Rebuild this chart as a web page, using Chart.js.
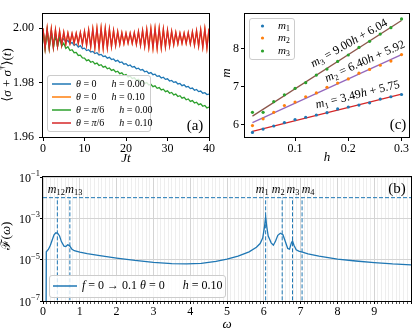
<!DOCTYPE html>
<html>
<head>
<meta charset="utf-8">
<script src="https://cdn.jsdelivr.net/npm/chart.js@4.4.1/dist/chart.umd.min.js"></script>
<style>
  html, body { margin: 0; padding: 0; background: #fff; }
  #wrap { position: relative; width: 415px; height: 332px; overflow: hidden; }
  #wrap canvas { position: absolute; left: 0; top: 0; }
</style>
</head>
<body>
<div id="wrap">
  <canvas id="panelA" width="415" height="332"></canvas>
  <canvas id="panelC" width="415" height="332"></canvas>
  <canvas id="panelB" width="415" height="332"></canvas>
</div>
<script>
const SERIF = "'Liberation Serif', 'DejaVu Serif', serif";
const C0 = '#1f77b4', C1 = '#ff7f0e', C2 = '#2ca02c', C3 = '#d62728', C4 = '#9467bd', C5 = '#8c564b';

// ---- panel (a): <sigma + sigma^dagger>(t), sampled every half unit of Jt ----
const aTime = Array.from({ length: 81 }, (_, i) => i / 2);
const aBlue = [
  1.9995, 1.9930, 1.9990, 1.9935, 1.9985, 1.9940, 1.9978, 1.9945, 1.9970, 1.9950,
  1.9962, 1.9950, 1.9955, 1.9943, 1.9948, 1.9937, 1.9942, 1.9931, 1.9936, 1.9925,
  1.9927, 1.9918, 1.9921, 1.9913, 1.9915, 1.9907, 1.9910, 1.9902, 1.9904, 1.9896,
  1.9898, 1.9890, 1.9893, 1.9885, 1.9887, 1.9879, 1.9882, 1.9874, 1.9876, 1.9868,
  1.9870, 1.9862, 1.9865, 1.9857, 1.9859, 1.9851, 1.9853, 1.9846, 1.9848, 1.9840,
  1.9842, 1.9834, 1.9837, 1.9829, 1.9831, 1.9823, 1.9825, 1.9817, 1.9820, 1.9812,
  1.9814, 1.9806, 1.9808, 1.9801, 1.9803, 1.9795, 1.9797, 1.9789, 1.9792, 1.9784,
  1.9786, 1.9778, 1.9780, 1.9772, 1.9775, 1.9767, 1.9769, 1.9761, 1.9763, 1.9756,
  1.9758
];
const aOrange = [
  1.9999, 1.9928, 1.9999, 1.9929, 1.9997, 1.9931, 1.9994, 1.9934, 1.9989, 1.9938,
  1.9985, 1.9942, 1.9982, 1.9945, 1.9980, 1.9946, 1.9981, 1.9945, 1.9984, 1.9942,
  1.9988, 1.9938, 1.9993, 1.9933, 1.9997, 1.9929, 1.9999, 1.9927, 2.0000, 1.9927,
  1.9999, 1.9929, 1.9996, 1.9933, 1.9991, 1.9937, 1.9987, 1.9941, 1.9983, 1.9944,
  1.9981, 1.9946, 1.9981, 1.9945, 1.9983, 1.9942, 1.9987, 1.9938, 1.9991, 1.9934,
  1.9995, 1.9930, 1.9998, 1.9928, 1.9999, 1.9927, 1.9999, 1.9929, 1.9996, 1.9932,
  1.9992, 1.9936, 1.9988, 1.9940, 1.9984, 1.9943, 1.9981, 1.9945, 1.9981, 1.9945,
  1.9983, 1.9943, 1.9986, 1.9939, 1.9990, 1.9935, 1.9994, 1.9931, 1.9997, 1.9928,
  1.9998
];
const aGreen = [
  1.9995, 1.9925, 1.9992, 1.9925, 1.9985, 1.9928, 1.9975, 1.9932, 1.9965, 1.9934,
  1.9945, 1.9926, 1.9932, 1.9918, 1.9921, 1.9910, 1.9911, 1.9900, 1.9901, 1.9891,
  1.9890, 1.9881, 1.9884, 1.9875, 1.9878, 1.9869, 1.9872, 1.9863, 1.9866, 1.9857,
  1.9860, 1.9851, 1.9854, 1.9845, 1.9848, 1.9839, 1.9842, 1.9833, 1.9836, 1.9827,
  1.9830, 1.9821, 1.9824, 1.9815, 1.9818, 1.9809, 1.9812, 1.9803, 1.9806, 1.9797,
  1.9800, 1.9791, 1.9794, 1.9785, 1.9788, 1.9779, 1.9782, 1.9773, 1.9776, 1.9767,
  1.9770, 1.9761, 1.9764, 1.9755, 1.9758, 1.9749, 1.9752, 1.9743, 1.9746, 1.9737,
  1.9740, 1.9731, 1.9734, 1.9725, 1.9728, 1.9719, 1.9722, 1.9713, 1.9716, 1.9707,
  1.9710
];
const aRed = [
  2.0000, 1.9926, 2.0000, 1.9927, 1.9998, 1.9929, 1.9995, 1.9933, 1.9990, 1.9937,
  1.9986, 1.9941, 1.9983, 1.9944, 1.9981, 1.9945, 1.9982, 1.9944, 1.9985, 1.9941,
  1.9989, 1.9937, 1.9994, 1.9932, 1.9998, 1.9928, 2.0000, 1.9926, 2.0001, 1.9926,
  2.0000, 1.9928, 1.9997, 1.9932, 1.9992, 1.9936, 1.9988, 1.9940, 1.9984, 1.9943,
  1.9982, 1.9945, 1.9982, 1.9944, 1.9984, 1.9941, 1.9988, 1.9937, 1.9992, 1.9933,
  1.9996, 1.9929, 1.9999, 1.9927, 2.0000, 1.9926, 2.0000, 1.9928, 1.9997, 1.9931,
  1.9993, 1.9935, 1.9989, 1.9939, 1.9985, 1.9942, 1.9982, 1.9944, 1.9982, 1.9944,
  1.9984, 1.9942, 1.9987, 1.9938, 1.9991, 1.9934, 1.9995, 1.9930, 1.9998, 1.9927,
  1.9999
];
const aTheta = [[['0', 'r']], [['0', 'r']], [['π', 'i'], ['/6', 'r']], [['π', 'i'], ['/6', 'r']]];
const aField = ['0.00', '0.10', '0.00', '0.10'];
const aXTicks = [0, 10, 20, 30, 40];
const aYTicks = [1.96, 1.98, 2.00];

// ---- panel (c): peak positions m vs h with linear fits ----
const cH = [0.02, 0.04, 0.06, 0.08, 0.10, 0.12, 0.14, 0.16, 0.18, 0.20, 0.22, 0.24, 0.26, 0.28, 0.30];
const cM1 = [5.79, 5.88, 5.96, 6.05, 6.13, 6.19, 6.25, 6.31, 6.41, 6.46, 6.51, 6.57, 6.67, 6.73, 6.79];
const cM2 = [5.97, 6.15, 6.32, 6.50, 6.59, 6.73, 6.83, 6.98, 7.09, 7.20, 7.35, 7.45, 7.56, 7.67, 7.84];
const cM3 = [6.32, 6.32, 6.60, 6.78, 6.95, 7.10, 7.30, 7.46, 7.66, 7.83, 8.03, 8.19, 8.38, 8.55, 8.78];
const cSlope = [3.49, 6.40, 9.00];
const cIntercept = [5.75, 5.92, 6.04];
const cXTicks = [0.1, 0.2, 0.3];
const cYTicks = [6, 7, 8];

// ---- panel (b): spectrum F(omega) ----
const bOmega = [0.08, 0.09, 0.15, 0.20, 0.25, 0.30, 0.35, 0.40, 0.45, 0.50,
  0.57, 0.62, 0.67, 0.72, 0.78, 0.85, 1.0, 1.2, 1.5, 2.0,
  2.5, 3.0, 3.5, 3.9, 4.3, 4.7, 5.0, 5.3, 5.6, 5.8,
  5.9, 5.97, 6.02, 6.05, 6.08, 6.12, 6.2, 6.26, 6.32, 6.38,
  6.45, 6.52, 6.58, 6.65, 6.7, 6.75, 6.78, 6.82, 6.88, 6.95,
  7.05, 7.2, 7.5, 8.0, 8.5, 9.0, 9.5, 10.0];
const bF = [1e-9, 2.4e-5, 3.2e-5, 5.0e-5, 9.0e-5, 1.6e-4, 2.0e-4, 1.9e-4, 1.4e-4, 7.5e-5,
  4.5e-5, 4.3e-5, 5.2e-5, 4.8e-5, 3.3e-5, 2.7e-5, 2.3e-5, 1.95e-5, 1.6e-5, 1.2e-5,
  9.2e-6, 7.4e-6, 6.5e-6, 6.2e-6, 6.6e-6, 8.3e-6, 1.05e-5, 1.5e-5, 2.4e-5, 4.0e-5,
  6.0e-5, 1.1e-4, 4.0e-4, 1.2e-3, 4.0e-4, 1.4e-4, 6.5e-5, 5.0e-5, 8.0e-5, 1.5e-4,
  1.9e-4, 1.6e-4, 8.0e-5, 3.5e-5, 3.2e-5, 6.5e-5, 8.0e-5, 5.0e-5, 3.0e-5, 2.6e-5,
  2.3e-5, 1.9e-5, 1.5e-5, 1.07e-5, 8.6e-6, 7.2e-6, 6.2e-6, 5.6e-6];
const bPeakNames = ['12', '13', '1', '2', '3', '4'];
const bPeaks = [0.39, 0.73, 6.05, 6.50, 6.78, 7.04];
const bLevel = 1e-2;
const bXTicks = [0, 1, 2, 3, 4, 5, 6, 7, 8, 9];
const bYTicks = [1e-7, 1e-5, 1e-3, 1e-1];

// ---------- drawing helpers ----------
function fontOf(kind, size) {
  const small = kind === 'sub' || kind === 'sup';
  return (kind === 'i' ? 'italic ' : '') + (small ? size * 0.7 : size) + 'px ' + SERIF;
}

// runs: [text, kind] with kind r (roman), i (italic), sub, sup
function richText(ctx, runs, x, y, size, align, angle) {
  ctx.save();
  ctx.translate(x, y);
  if (angle) ctx.rotate(-angle * Math.PI / 180);
  ctx.textBaseline = 'middle';
  ctx.textAlign = 'left';
  ctx.fillStyle = '#000';
  let w = 0;
  for (const [t, k] of runs) { ctx.font = fontOf(k, size); w += ctx.measureText(t).width; }
  let cx = align === 'left' ? 0 : align === 'right' ? -w : -w / 2;
  for (const [t, k] of runs) {
    ctx.font = fontOf(k, size);
    const dy = k === 'sub' ? size * 0.3 : k === 'sup' ? -size * 0.38 : 0;
    ctx.fillText(t, cx, dy);
    cx += ctx.measureText(t).width;
  }
  ctx.restore();
}

function drawFrame(chart) {
  const { ctx, chartArea: a } = chart;
  ctx.save();
  ctx.strokeStyle = '#000';
  ctx.lineWidth = 1;
  ctx.strokeRect(Math.round(a.left) - 0.5, Math.round(a.top) - 0.5,
    Math.round(a.right - a.left) + 1, Math.round(a.bottom - a.top) + 1);
  ctx.restore();
}

function legendBox(ctx, x0, y0, x1, y1) {
  ctx.save();
  ctx.fillStyle = 'rgba(255,255,255,0.8)';
  ctx.strokeStyle = '#cccccc';
  ctx.lineWidth = 1;
  ctx.beginPath();
  if (ctx.roundRect) ctx.roundRect(x0 + 0.5, y0 + 0.5, x1 - x0, y1 - y0, 2.5);
  else ctx.rect(x0 + 0.5, y0 + 0.5, x1 - x0, y1 - y0);
  ctx.fill();
  ctx.stroke();
  ctx.restore();
}

function axisOpts(min, max, tickList, fmt, fitSize, horizontal, pad) {
  return {
    type: 'linear', min, max,
    border: { display: false },
    grid: { drawOnChartArea: false, drawTicks: true, tickLength: 4, tickColor: '#000', tickWidth: 1 },
    ticks: { color: '#000', font: { size: 12, family: SERIF }, padding: pad, maxRotation: 0, autoSkip: false, callback: fmt },
    afterBuildTicks: s => { s.ticks = tickList.map(v => ({ value: v })); },
    afterFit: s => { if (horizontal) s.height = fitSize; else s.width = fitSize; }
  };
}

const baseOpts = {
  responsive: false, animation: false, devicePixelRatio: 1,
  plugins: { legend: { display: false }, tooltip: { enabled: false } }
};

// ---------- (a) ----------
const aPts = ys => ys.map((y, i) => ({ x: aTime[i], y }));
const aColors = [C0, C1, C2, C3];
new Chart(document.getElementById('panelA'), {
  type: 'line',
  data: {
    datasets: [aBlue, aOrange, aGreen, aRed].map((ys, i) => ({
      data: aPts(ys), borderColor: aColors[i], borderWidth: 1.3, pointRadius: 0, order: 4 - i
    }))
  },
  options: {
    ...baseOpts,
    layout: { padding: { left: 0, top: 14, right: 206, bottom: 162 } },
    scales: {
      x: axisOpts(0, 40, aXTicks, v => String(v), 33, true, 1),
      y: axisOpts(1.96, 2.00525, aYTicks, v => v.toFixed(2), 43, false, 5)
    }
  },
  plugins: [{
    id: 'decorA',
    afterDraw(chart) {
      const ctx = chart.ctx;
      drawFrame(chart);
      legendBox(ctx, 47, 75, 150, 131);
      const rows = [84, 97, 110, 123];
      rows.forEach((ry, i) => {
        ctx.save();
        ctx.strokeStyle = aColors[i];
        ctx.lineWidth = 1.5;
        ctx.beginPath(); ctx.moveTo(52, ry); ctx.lineTo(71, ry); ctx.stroke();
        ctx.restore();
        richText(ctx, [['θ', 'i'], [' = ', 'r'], ...aTheta[i], ['\u2003\u2002', 'r'], ['h', 'i'], [' = ' + aField[i], 'r']],
          76, ry, 10, 'left');
      });
      richText(ctx, [['(a)', 'r']], 195, 126, 15, 'center');
      richText(ctx, [['Jt', 'i']], 126, 159, 13, 'center');
      richText(ctx, [['⟨', 'r'], ['σ', 'i'], [' + ', 'r'], ['σ', 'i'], ['†', 'sup'], ['⟩', 'r'], ['(', 'r'], ['t', 'i'], [')', 'r']],
        8, 75, 13, 'center', 90);
    }
  }]
});

// ---------- (c) ----------
const cPts = ys => ys.map((y, i) => ({ x: cH[i], y }));
const cFit = k => [cH[0], cH[cH.length - 1]].map(h => ({ x: h, y: cSlope[k] * h + cIntercept[k] }));
const cDotColors = [C0, C1, C2];
const cFitColors = [C3, C4, C5];
const cNoteH = [0.222, 0.238, 0.21];
const cNoteOff = [10, 9, 9];
const cNoteAngle = [14, 24, 29.5];
new Chart(document.getElementById('panelC'), {
  type: 'scatter',
  data: {
    datasets: [
      ...[cM1, cM2, cM3].map((ys, i) => ({
        data: cPts(ys), backgroundColor: cDotColors[i], borderColor: cDotColors[i],
        pointRadius: 1.6, pointBorderWidth: 0, showLine: false, order: 1
      })),
      ...[0, 1, 2].map(k => ({
        data: cFit(k), borderColor: cFitColors[k], borderWidth: 1.3, pointRadius: 0, showLine: true, order: 5
      }))
    ]
  },
  options: {
    ...baseOpts,
    layout: { padding: { left: 213, top: 14, right: 6, bottom: 162 } },
    scales: {
      x: axisOpts(0.006, 0.314, cXTicks, v => v.toFixed(1), 33, true, 1),
      y: axisOpts(5.67, 8.91, cYTicks, v => String(v), 32, false, 2)
    }
  },
  plugins: [{
    id: 'decorC',
    afterDraw(chart) {
      const ctx = chart.ctx;
      const xs = chart.scales.x, ys = chart.scales.y;
      drawFrame(chart);
      [0, 1, 2].forEach(k => {
        const h = cNoteH[k];
        const px = xs.getPixelForValue(h), py = ys.getPixelForValue(cSlope[k] * h + cIntercept[k]);
        const th = cNoteAngle[k] * Math.PI / 180;
        richText(ctx, [['m', 'i'], [String(k + 1), 'sub'], [' = ' + cSlope[k].toFixed(2), 'r'], ['h', 'i'],
          [' + ' + cIntercept[k].toFixed(2), 'r']],
          px - cNoteOff[k] * Math.sin(th), py - cNoteOff[k] * Math.cos(th), 12, 'center', cNoteAngle[k]);
      });
      legendBox(ctx, 249, 18, 294, 59);
      [26, 38, 51].forEach((ry, i) => {
        ctx.save();
        ctx.fillStyle = cDotColors[i];
        ctx.beginPath(); ctx.arc(262.5, ry, 1.6, 0, Math.PI * 2); ctx.fill();
        ctx.restore();
        richText(ctx, [['m', 'i'], [String(i + 1), 'sub']], 278, ry, 11, 'left');
      });
      richText(ctx, [['(c)', 'r']], 398, 125, 15, 'center');
      richText(ctx, [['h', 'i']], 327, 158, 13, 'center');
      richText(ctx, [['m', 'i']], 227, 73, 13, 'center', 90);
    }
  }]
});

// ---------- (b) ----------
const isMajor = v => Math.abs(v - Math.round(v)) < 1e-6;
const bLabelDx = [-1, 4, -3.5, -4, 0.5, 6];
new Chart(document.getElementById('panelB'), {
  type: 'line',
  data: {
    datasets: [
      { data: bOmega.map((w, i) => ({ x: w, y: bF[i] })), borderColor: C0, borderWidth: 1.3, pointRadius: 0, order: 1 },
      { data: [{ x: 0, y: bLevel }, { x: 10, y: bLevel }], borderColor: C0, borderWidth: 1, borderDash: [4, 2], pointRadius: 0, order: 2 },
      ...bPeaks.map(w => ({
        data: [{ x: w, y: 1e-9 }, { x: w, y: bLevel }], borderColor: C0, borderWidth: 1, borderDash: [4, 2], pointRadius: 0, order: 2
      }))
    ]
  },
  options: {
    ...baseOpts,
    layout: { padding: { left: 0, top: 177, right: 4, bottom: 0 } },
    scales: {
      x: {
        type: 'linear', min: 0, max: 10,
        border: { display: false },
        grid: {
          drawOnChartArea: true, drawTicks: true, tickLength: 3,
          color: c => isMajor(c.tick.value) ? '#d4d4d4' : '#eeeeee',
          tickColor: c => isMajor(c.tick.value) ? '#000' : '#555'
        },
        ticks: {
          color: '#000', font: { size: 12, family: SERIF }, padding: 1, maxRotation: 0, autoSkip: false,
          callback: v => (isMajor(v) && bXTicks.includes(Math.round(v))) ? String(Math.round(v)) : ''
        },
        afterBuildTicks: s => { s.ticks = Array.from({ length: 101 }, (_, i) => ({ value: i / 10 })); },
        afterFit: s => { s.height = 31; }
      },
      y: {
        type: 'logarithmic', min: 1e-7, max: 1e-1,
        border: { display: false },
        grid: { drawOnChartArea: true, drawTicks: true, tickLength: 3, color: '#d4d4d4', tickColor: '#000' },
        ticks: { callback: () => '' },
        afterBuildTicks: s => { s.ticks = bYTicks.map(v => ({ value: v })); },
        afterFit: s => { s.width = 43; }
      }
    }
  },
  plugins: [{
    id: 'decorB',
    afterDraw(chart) {
      const ctx = chart.ctx;
      const xs = chart.scales.x, ys = chart.scales.y;
      drawFrame(chart);
      bYTicks.forEach(v => {
        const e = Math.round(Math.log10(v));
        richText(ctx, [['10', 'r'], ['−' + (-e), 'sup']], 40, ys.getPixelForValue(v) + 1.5, 12, 'right');
      });
      const ly = ys.getPixelForValue(bLevel);
      bPeaks.forEach((w, i) => {
        richText(ctx, [['m', 'i'], [bPeakNames[i], 'sub']], xs.getPixelForValue(w) + bLabelDx[i], ly - 8, 12, 'center');
      });
      legendBox(ctx, 49, 275, 225, 297);
      ctx.save();
      ctx.strokeStyle = C0; ctx.lineWidth = 1.5;
      ctx.beginPath(); ctx.moveTo(53, 286); ctx.lineTo(77, 286); ctx.stroke();
      ctx.restore();
      richText(ctx, [['f', 'i'], [' = 0 → 0.1 ', 'r'], ['θ', 'i'], [' = 0', 'r'], ['\u2003\u2002', 'r'], ['h', 'i'], [' = 0.10', 'r']],
        82, 286, 12, 'left');
      richText(ctx, [['(b)', 'r']], 397, 189, 15, 'center');
      richText(ctx, [['ω', 'i']], 227, 325, 13, 'center');
      richText(ctx, [['ℱ', 'r'], ['(', 'r'], ['ω', 'i'], [')', 'r']], 7, 236, 13, 'center', 90);
    }
  }]
});
</script>
</body>
</html>
